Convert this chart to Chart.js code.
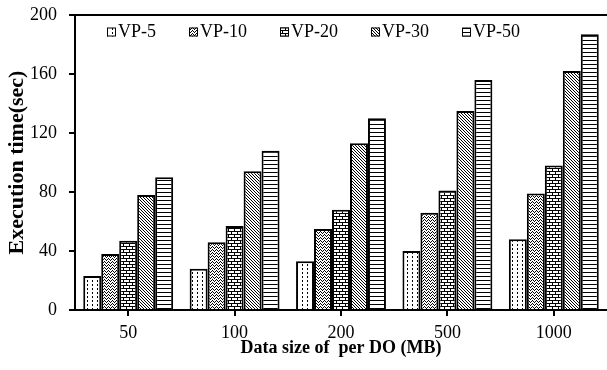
<!DOCTYPE html>
<html>
<head>
<meta charset="utf-8">
<script src="https://cdn.jsdelivr.net/npm/chart.js@4.4.1/dist/chart.umd.min.js"></script>
<style>
  html, body { margin: 0; padding: 0; background: #fff; }
  #box { width: 607px; height: 370px; }
</style>
</head>
<body>
<div id="box"><canvas id="grafico"></canvas></div>
<script>
var tamanos = ['50', '100', '200', '500', '1000'];
var series = ['VP-5', 'VP-10', 'VP-20', 'VP-30', 'VP-50'];
var vp5 = [23, 28, 33, 40, 48];
var vp10 = [38, 46, 55, 66, 79];
var vp20 = [47, 57, 68, 81, 98];
var vp30 = [78, 94, 113, 135, 162];
var vp50 = [90, 108, 130, 156, 187];

// little tiles used as hatch fills for the bars
function tile(w, h, dibujar) {
    var c = document.createElement('canvas');
    c.width = w;
    c.height = h;
    var g = c.getContext('2d');
    g.fillStyle = '#fff';
    g.fillRect(0, 0, w, h);
    g.fillStyle = '#000';
    dibujar(g);
    return document.createElement('canvas').getContext('2d').createPattern(c, 'repeat');
}

var trama = [
    // dashed vertical lines
    tile(5, 4, function (g) { g.fillRect(2, 0, 1, 2); }),
    // light zigzag waves
    tile(4, 3, function (g) {
        g.fillRect(0, 0, 1, 1); g.fillRect(1, 1, 1, 1); g.fillRect(3, 1, 1, 1); g.fillRect(2, 2, 1, 1);
    }),
    // bricks
    tile(6, 6, function (g) {
        g.fillRect(0, 0, 6, 1); g.fillRect(0, 3, 6, 1);
        g.fillRect(0, 1, 1, 2); g.fillRect(3, 4, 1, 2);
    }),
    // dense diagonals
    tile(3, 3, function (g) { g.fillRect(0, 0, 1, 1); g.fillRect(1, 1, 1, 1); g.fillRect(2, 2, 1, 1); }),
    // horizontal lines
    tile(1, 4, function (g) { g.fillRect(0, 0, 1, 1); })
];

var valores = [vp5, vp10, vp20, vp30, vp50];
var datasets = [];
for (let i = 0; i < series.length; i++) {
    datasets.push({
        label: series[i],
        data: valores[i],
        backgroundColor: trama[i],
        borderColor: '#000',
        borderWidth: 2,
        borderSkipped: 'start'
    });
}

// top frame line and the legend drawn inside the plot
var marco = {
    id: 'marco',
    afterDraw: function (chart) {
        var ctx = chart.ctx;
        var area = chart.chartArea;
        ctx.save();
        ctx.strokeStyle = '#000';
        ctx.lineWidth = 2;
        ctx.beginPath();
        ctx.moveTo(area.left - 1, area.top);
        ctx.lineTo(area.right, area.top);
        ctx.stroke();

        ctx.font = '18px "Liberation Serif"';
        ctx.textBaseline = 'middle';
        var x = area.left + 32;
        var y = area.top + 17;
        chart.data.datasets.forEach(function (ds) {
            ctx.fillStyle = ds.backgroundColor;
            ctx.fillRect(x, y - 4.5, 9, 9);
            ctx.lineWidth = 1;
            ctx.strokeStyle = '#000';
            ctx.strokeRect(x + 0.5, y - 4, 8, 8);
            ctx.fillStyle = '#000';
            ctx.fillText(ds.label, x + 11, y);
            x += 11 + ctx.measureText(ds.label).width + 33;
        });
        ctx.restore();
    }
};

var ctx = document.getElementById('grafico').getContext('2d');
new Chart(ctx, {
    type: 'bar',
    data: { labels: tamanos, datasets: datasets },
    options: {
        responsive: true,
        maintainAspectRatio: false,
        animation: false,
        layout: { padding: { top: 15, right: 0, left: 0, bottom: 0 } },
        datasets: { bar: { categoryPercentage: 0.845, barPercentage: 1 } },
        plugins: { legend: { display: false }, tooltip: { enabled: false } },
        scales: {
            x: {
                afterFit: function (s) { s.height = 60; s.paddingRight = 0; s.paddingLeft = 0; },
                grid: { drawOnChartArea: false, offset: false, color: '#000', lineWidth: 2, tickLength: 6 },
                border: { color: '#000', width: 2 },
                ticks: { color: '#000', padding: 6, font: { family: 'Liberation Serif', size: 18 } },
                title: {
                    display: true,
                    text: 'Data size of  per DO (MB)',
                    color: '#000',
                    padding: { top: 0, bottom: 11 },
                    font: { family: 'Liberation Serif', size: 18, weight: 'bold' }
                }
            },
            y: {
                min: 0,
                max: 200,
                afterFit: function (s) { s.width = 75; s.paddingTop = 0; s.paddingBottom = 0; },
                grid: { drawOnChartArea: false, color: '#000', lineWidth: 2, tickLength: 6 },
                border: { color: '#000', width: 2 },
                ticks: { stepSize: 40, color: '#000', padding: 12, font: { family: 'Liberation Serif', size: 18 } },
                title: {
                    display: true,
                    text: 'Execution time(sec)',
                    color: '#000',
                    padding: { top: 4, bottom: 0 },
                    font: { family: 'Liberation Serif', size: 22, weight: 'bold' }
                }
            }
        }
    },
    plugins: [marco]
});
</script>
</body>
</html>
